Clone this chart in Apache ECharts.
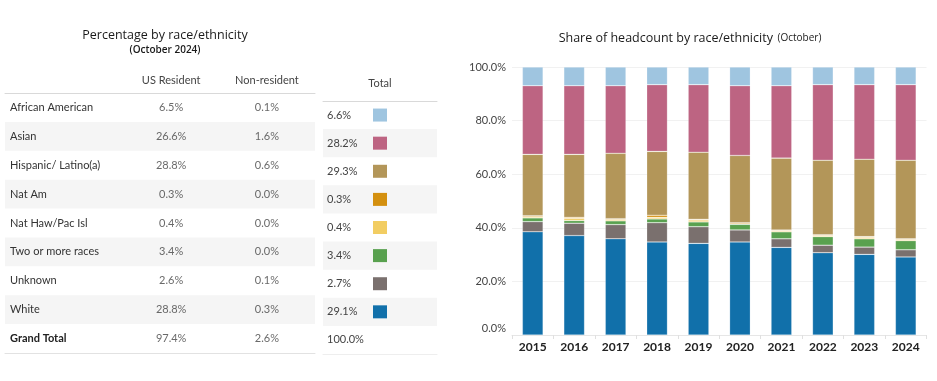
<!DOCTYPE html>
<html>
<head>
<meta charset="utf-8">
<script src="https://cdn.jsdelivr.net/npm/echarts@6/dist/echarts.min.js"></script>
<style>
html,body{margin:0;padding:0;background:#fff;}
#c{width:937px;height:381px;}
</style>
</head>
<body>
<div id="c"></div>
<script>
// ---------- Data ----------
const rowNames = ['African American','Asian','Hispanic/ Latino(a)','Nat Am','Nat Haw/Pac Isl','Two or more races','Unknown','White','Grand Total'];
const usResident = [6.5, 26.6, 28.8, 0.3, 0.4, 3.4, 2.6, 28.8, 97.4];
const nonResident = [0.1, 1.6, 0.6, 0.0, 0.0, 0.0, 0.1, 0.3, 2.6];
const totalPct = [6.6, 28.2, 29.3, 0.3, 0.4, 3.4, 2.7, 29.1, 100.0];

const years = ['2015','2016','2017','2018','2019','2020','2021','2022','2023','2024'];
const white      = [38.5, 37.1, 35.9, 34.7, 34.2, 34.7, 32.7, 30.7, 30.1, 29.1];
const unknown    = [3.8, 4.6, 5.3, 7.2, 6.2, 4.5, 3.2, 2.8, 2.7, 2.7];
const twoOrMore  = [1.4, 1.0, 1.4, 1.4, 1.8, 2.1, 2.6, 3.2, 3.1, 3.4];
const natHaw     = [0.4, 0.8, 0.5, 0.6, 0.7, 0.2, 0.4, 0.4, 0.5, 0.4];
const natAm      = [0.4, 0.4, 0.3, 0.8, 0.3, 0.4, 0.3, 0.3, 0.3, 0.3];
const hispanic   = [22.9, 23.5, 24.4, 23.8, 25.0, 25.1, 26.8, 27.8, 28.9, 29.3];
const asian      = [25.6, 25.6, 25.2, 24.9, 25.2, 26.0, 27.0, 28.2, 27.8, 28.2];
const africanAm  = [7.0, 7.0, 7.0, 6.6, 6.6, 7.0, 7.0, 6.6, 6.6, 6.6];
const yTicks = [0, 20, 40, 60, 80, 100];

// ---------- Styles ----------
const C = {
  'African American': '#9fc5e0',
  'Asian': '#bd6482',
  'Hispanic/ Latino(a)': '#b39659',
  'Nat Am': '#d4900f',
  'Nat Haw/Pac Isl': '#f2cd62',
  'Two or more races': '#59a14f',
  'Unknown': '#7a706e',
  'White': '#1170aa'
};
const FONT = 'Lato';
const colUS = 0.536, colNR = 0.845;

const chart = echarts.init(document.getElementById('c'), null, {renderer: 'canvas'});

const stackSeries = [
  ['White', white], ['Unknown', unknown], ['Two or more races', twoOrMore],
  ['Nat Haw/Pac Isl', natHaw], ['Nat Am', natAm], ['Hispanic/ Latino(a)', hispanic],
  ['Asian', asian], ['African American', africanAm]
].map(([name, arr]) => ({
  type: 'bar', name, stack: 'all', data: arr,
  xAxisIndex: 4, yAxisIndex: 2, barWidth: '50%',
  itemStyle: {color: C[name], borderColor: 'rgba(255,255,255,0.35)', borderWidth: 0.6},
  silent: true
}));

const hiddenCommon = {splitLine: {show: false}, axisTick: {show: false}};

chart.setOption({
  animation: false,
  textStyle: {fontFamily: FONT},
  title: [
    {text: 'Percentage by race/ethnicity', subtext: '(October 2024)', left: 160, top: 24, textAlign: 'center', itemGap: 3,
     textStyle: {fontFamily: 'Open Sans', fontSize: 12.5, fontWeight: 'normal', color: '#1a1a1a'},
     subtextStyle: {fontFamily: 'Open Sans', fontSize: 10, fontWeight: 600, color: '#1a1a1a'}},
    {text: '{a|Share of headcount by race/ethnicity} {b|(October)}', left: 685, top: 24, textAlign: 'center',
     textStyle: {fontWeight: 'normal', rich: {
       a: {fontFamily: 'Open Sans', fontSize: 12.5, fontWeight: 'normal', color: '#1a1a1a'},
       b: {fontFamily: 'Open Sans', fontSize: 10, fontWeight: 'normal', color: '#1a1a1a'}}}}
  ],
  grid: [
    {left: 5, top: 93, width: 310, height: 260},
    {left: 323, top: 101, width: 114, height: 253},
    {left: 512, right: 10.5, top: 67, bottom: 46}
  ],
  xAxis: [
    Object.assign({type: 'value', gridIndex: 0, position: 'top', min: 0, max: 1,
      axisLine: {show: true, lineStyle: {color: '#d9d9d9'}},
      axisLabel: {show: true, customValues: [colUS, colNR], margin: 7, color: '#444', fontSize: 11,
        formatter: v => (Math.abs(v - colUS) < 1e-6 ? 'US Resident' : 'Non-resident')}}, hiddenCommon),
    Object.assign({type: 'value', gridIndex: 0, position: 'bottom', min: 0, max: 1,
      axisLine: {show: true, lineStyle: {color: '#e2e2e2'}}, axisLabel: {show: false}}, hiddenCommon),
    Object.assign({type: 'value', gridIndex: 1, position: 'top', min: 0, max: 1,
      axisLine: {show: true, lineStyle: {color: '#d9d9d9'}},
      axisLabel: {show: true, customValues: [0.5], margin: 12, color: '#444', fontSize: 11, formatter: () => 'Total'}}, hiddenCommon),
    Object.assign({type: 'value', gridIndex: 1, position: 'bottom', min: 0, max: 1,
      axisLine: {show: true, lineStyle: {color: '#eeeeee'}}, axisLabel: {show: false}}, hiddenCommon),
    {type: 'category', gridIndex: 2, data: years,
      axisLine: {show: true, lineStyle: {color: '#e6e6e6'}},
      axisTick: {show: true, length: 4, lineStyle: {color: '#e0e0e0'}},
      axisLabel: {color: '#222', fontSize: 12, fontWeight: 'bold', margin: 6, fontFamily: 'Lato'}}
  ],
  yAxis: [
    {type: 'category', gridIndex: 0, data: rowNames, inverse: true,
      axisLine: {show: false}, axisTick: {show: false},
      splitArea: {show: true, areaStyle: {color: ['rgba(255,255,255,0)', '#f5f5f5']}},
      axisLabel: {inside: true, margin: 5, color: '#333', fontSize: 11,
        formatter: v => v === 'Grand Total' ? '{b|' + v + '}' : v,
        rich: {b: {fontWeight: 'bold', color: '#222', fontSize: 11, fontFamily: FONT}}}},
    {type: 'category', gridIndex: 1, data: rowNames, inverse: true,
      axisLine: {show: false}, axisTick: {show: false},
      splitArea: {show: true, areaStyle: {color: ['rgba(255,255,255,0)', '#f5f5f5']}},
      axisLabel: {inside: true, margin: 4, color: '#444', fontSize: 11,
        formatter: (v, i) => totalPct[i].toFixed(1) + '%'}},
    {type: 'value', gridIndex: 2, min: 0, max: 100, interval: 20,
      axisLine: {show: false}, axisTick: {show: false},
      splitLine: {show: true, lineStyle: {color: '#f1f1f1'}},
      axisLabel: {color: '#444', fontSize: 11, margin: 6,
        formatter: v => v === 0 ? '{z|0.0%}' : v.toFixed(1) + '%',
        rich: {z: {padding: [0, 0, 14, 0], fontSize: 11, color: '#444', fontFamily: FONT}}}}
  ],
  series: [
    {type: 'scatter', name: 'US Resident', xAxisIndex: 0, yAxisIndex: 0, symbolSize: 1, silent: true,
      itemStyle: {color: 'transparent'},
      data: rowNames.map((r, i) => [colUS, r, usResident[i]]),
      label: {show: true, position: 'inside', color: '#444', fontSize: 11, formatter: p => p.value[2].toFixed(1) + '%'}},
    {type: 'scatter', name: 'Non-resident', xAxisIndex: 0, yAxisIndex: 0, symbolSize: 1, silent: true,
      itemStyle: {color: 'transparent'},
      data: rowNames.map((r, i) => [colNR, r, nonResident[i]]),
      label: {show: true, position: 'inside', color: '#444', fontSize: 11, formatter: p => p.value[2].toFixed(1) + '%'}},
    {type: 'scatter', name: 'Swatch', xAxisIndex: 2, yAxisIndex: 1, symbol: 'rect', symbolSize: [14, 13], silent: true,
      data: rowNames.slice(0, 8).map(r => ({value: [0.5, r], itemStyle: {color: C[r], opacity: 1}}))}
  ].concat(stackSeries)
});
</script>
</body>
</html>
